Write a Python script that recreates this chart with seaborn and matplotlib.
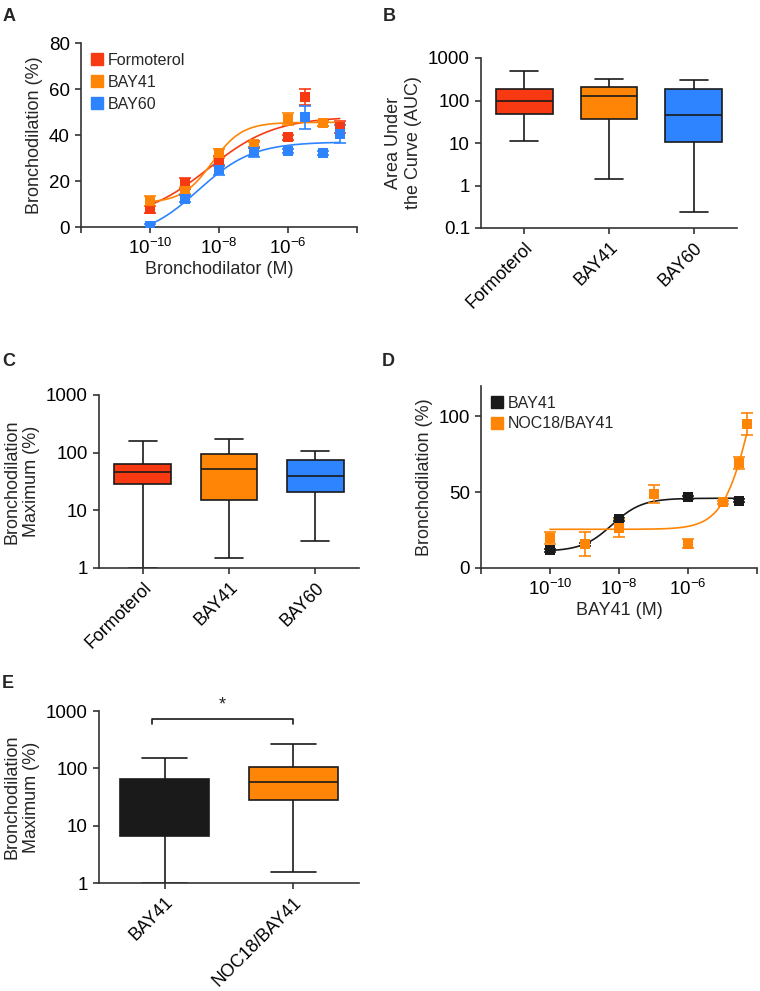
import numpy as np
import pandas as pd
import matplotlib
matplotlib.use("Agg")
import matplotlib.pyplot as plt
from matplotlib.lines import Line2D
import seaborn as sns

# ---------------- data ----------------
# A: bronchodilation vs log10 concentration (M)
conc_a = [-10, -9, -8, -7, -6, -5.5, -5, -4.5]
formoterol_mean = [7.8, 19.0, 28.7, 36.0, 39.0, 56.5, 45.0, 43.5]
formoterol_sem = [1.5, 2.5, 2.0, 1.5, 1.0, 3.5, 1.0, 2.5]
conc_a_bay41 = [-10, -9, -8, -7, -6, -5]
bay41_mean = [11.3, 15.7, 32.0, 36.0, 47.0, 45.0]
bay41_sem = [2.0, 1.5, 2.0, 1.0, 2.5, 1.0]
bay60_mean = [0.5, 12.2, 24.8, 32.6, 33.0, 47.8, 32.2, 40.4]
bay60_sem = [1.0, 1.5, 2.0, 2.0, 1.0, 5.0, 1.0, 4.0]
# fitted curves: bottom, top, logEC50, hill slope
formoterol_fit = [3.0, 48.0, -8.3, 0.45]
bay41_fit = [10.5, 45.5, -8.2, 1.0]
bay60_fit = [-5.0, 37.0, -8.6, 0.55]

# B: area under the curve, five-number summaries (min, q1, median, q3, max)
groups_3 = ["Formoterol", "BAY41", "BAY60"]
auc_formoterol = [11.4, 48.7, 100, 191, 495]
auc_bay41 = [1.46, 35.9, 128, 213, 322]
auc_bay60 = [0.24, 10.7, 46, 191, 305]

# C: bronchodilation maximum
max_formoterol = [1.0, 28.6, 45.6, 64.5, 159]
max_bay41 = [1.49, 15.1, 52.8, 93.6, 172.6]
max_bay60 = [2.94, 21.1, 39.4, 75.6, 107]

# D: BAY41 alone vs with NOC18
conc_d_bay41 = [-10, -9, -8, -6, -4.52]
d_bay41_mean = [11.7, 15.5, 32.0, 46.7, 44.5]
d_bay41_sem = [1.0, 1.0, 1.0, 1.0, 1.0]
conc_d_noc = [-10, -9, -8, -7, -6, -5, -4.52, -4.3]
noc_mean = [20.0, 16.0, 26.2, 48.7, 15.9, 43.2, 69.0, 95.0]
noc_sem = [4.0, 8.0, 6.0, 6.0, 3.0, 1.0, 4.0, 7.0]
d_bay41_fit = [11.0, 46.0, -8.2, 1.0]
noc_fit = [25.5, 200.0, -4.05, 1.0]

# E: bronchodilation maximum
groups_2 = ["BAY41", "NOC18/BAY41"]
e_bay41 = [1.0, 6.5, 25, 66.2, 153]
e_noc = [1.55, 28.2, 57.2, 105, 268]

RED = "#f83a12"
ORANGE = "#ff8506"
BLUE = "#2e84ff"
BLACK = "#1a1a1a"

sns.set_style("ticks")
plt.rcParams["font.family"] = ["Liberation Sans", "DejaVu Sans"]
plt.rcParams["mathtext.fontset"] = "custom"
plt.rcParams["mathtext.rm"] = "Liberation Sans"
plt.rcParams["mathtext.it"] = "Liberation Sans:italic"
plt.rcParams["mathtext.bf"] = "Liberation Sans:bold"
plt.rcParams["font.size"] = 13
plt.rcParams["xtick.labelsize"] = 13.5
plt.rcParams["ytick.labelsize"] = 13.5
plt.rcParams["axes.labelsize"] = 13
plt.rcParams["axes.edgecolor"] = "#333333"
plt.rcParams["axes.linewidth"] = 1.2
plt.rcParams["xtick.major.width"] = 1.2
plt.rcParams["ytick.major.width"] = 1.2
plt.rcParams["xtick.major.size"] = 4.5
plt.rcParams["ytick.major.size"] = 4.5
plt.rcParams["xtick.color"] = "#333333"
plt.rcParams["ytick.color"] = "#333333"
plt.rcParams["xtick.labelcolor"] = "black"
plt.rcParams["ytick.labelcolor"] = "black"

W, H = 760, 991
fig = plt.figure(figsize=(W / 100, H / 100), dpi=100)


def rect(l, t, r, b):
    return [l / W, 1 - b / H, (r - l) / W, (b - t) / H]


def hill(logx, p):
    bottom, top, ec50, slope = p
    return bottom + (top - bottom) / (1 + 10 ** ((ec50 - logx) * slope))


def dose_axis(ax):
    ax.set_xscale("log")
    ax.set_xlim(1e-12, 1e-4)
    ax.set_xticks([1e-12, 1e-10, 1e-8, 1e-6, 1e-4])
    ax.set_xticklabels(["", r"$10^{-10}$", r"$10^{-8}$", r"$10^{-6}$", ""])
    ax.minorticks_off()
    sns.despine(ax=ax)


def dose_series(ax, conc, mean, sem, fit, color, xmax):
    x = 10.0 ** np.array(conc)
    grid = np.linspace(-10, xmax, 300)
    sns.lineplot(x=10 ** grid, y=hill(grid, fit), color=color, lw=1.2, ax=ax)
    ax.errorbar(x, mean, yerr=sem, fmt="none", ecolor=color, elinewidth=1.2,
                capsize=4, capthick=1.2)
    sns.scatterplot(x=x, y=mean, marker="s", s=55, color=color, linewidth=0, ax=ax, zorder=3)


def log_box(ax, names, summaries, colors, ylim, yticks, ylabels, width):
    df = pd.DataFrame({
        "group": np.repeat(names, 5),
        "value": np.concatenate(summaries),
    })
    sns.boxplot(data=df, x="group", y="value", hue="group", order=names,
                palette=dict(zip(names, colors)), saturation=1, whis=(0, 100),
                width=width, linecolor=BLACK, linewidth=1.2, log_scale=True,
                legend=False, ax=ax)
    ax.set_ylim(*ylim)
    ax.set_yticks(yticks)
    ax.set_yticklabels(ylabels)
    ax.minorticks_off()
    ax.set_xlim(-0.51, len(names) - 0.49)
    ax.set_xlabel("")
    ax.set_xticks(range(len(names)))
    ax.set_xticklabels(names, rotation=45, ha="right", rotation_mode="anchor", fontsize=12.8)
    sns.despine(ax=ax)


def square_legend(ax, labels, colors, **kw):
    handles = [Line2D([], [], marker="s", ls="none", ms=8, color=c) for c in colors]
    ax.legend(handles, labels, loc="upper left", frameon=False, handlelength=0.8,
              handletextpad=0.3, borderaxespad=0.2, fontsize=11.5, **kw)


# ---------------- A ----------------
axA = fig.add_axes(rect(81, 43, 357, 227))
dose_series(axA, conc_a, formoterol_mean, formoterol_sem, formoterol_fit, RED, -4.5)
dose_series(axA, conc_a_bay41, bay41_mean, bay41_sem, bay41_fit, ORANGE, -4.5)
dose_series(axA, conc_a, bay60_mean, bay60_sem, bay60_fit, BLUE, -4.5)
dose_axis(axA)
axA.set_ylim(0, 80)
axA.set_yticks([0, 20, 40, 60, 80])
axA.set_ylabel("Bronchodilation (%)")
axA.set_xlabel("Bronchodilator (M)", labelpad=2)
square_legend(axA, ["Formoterol", "BAY41", "BAY60"], [RED, ORANGE, BLUE], labelspacing=0.45)

# ---------------- B ----------------
axB = fig.add_axes(rect(481, 58, 737, 228))
log_box(axB, groups_3, [auc_formoterol, auc_bay41, auc_bay60], [RED, ORANGE, BLUE],
        (0.1, 1000), [0.1, 1, 10, 100, 1000], ["0.1", "1", "10", "100", "1000"], 0.67)
axB.set_ylabel("Area Under\nthe Curve (AUC)", linespacing=1.25)

# ---------------- C ----------------
axC = fig.add_axes(rect(99, 395, 359, 568))
log_box(axC, groups_3, [max_formoterol, max_bay41, max_bay60], [RED, ORANGE, BLUE],
        (1, 1000), [1, 10, 100, 1000], ["1", "10", "100", "1000"], 0.66)
axC.set_ylabel("Bronchodilation\nMaximum (%)", linespacing=1.25)

# ---------------- D ----------------
axD = fig.add_axes(rect(481, 386, 757, 568))
dose_series(axD, conc_d_bay41, d_bay41_mean, d_bay41_sem, d_bay41_fit, BLACK, -4.52)
dose_series(axD, conc_d_noc, noc_mean, noc_sem, noc_fit, ORANGE, -4.3)
dose_axis(axD)
axD.set_ylim(0, 120)
axD.set_yticks([0, 50, 100])
axD.set_ylabel("Bronchodilation (%)")
axD.set_xlabel("BAY41 (M)", labelpad=2)
square_legend(axD, ["BAY41", "NOC18/BAY41"], [BLACK, ORANGE], labelspacing=0.35)

# ---------------- E ----------------
axE = fig.add_axes(rect(99, 711, 359, 883))
log_box(axE, groups_2, [e_bay41, e_noc], [BLACK, ORANGE],
        (1, 1000), [1, 10, 100, 1000], ["1", "10", "100", "1000"], 0.69)
axE.set_ylabel("Bronchodilation\nMaximum (%)", linespacing=1.25)
axE.plot([-0.1, -0.1, 1.0, 1.0], [590, 726, 726, 590], color=BLACK, lw=1.2, clip_on=False)
axE.text(0.45, 900, "*", ha="center", va="bottom", fontsize=13)

# panel letters
for letter, (x, y) in {"A": (3, 8), "B": (383, 8), "C": (2, 353), "D": (382, 353),
                       "E": (2, 675)}.items():
    fig.text(x / W, 1 - y / H, letter, fontsize=13, fontweight="bold", va="top", ha="left")

fig.savefig("out.png", dpi=100)
